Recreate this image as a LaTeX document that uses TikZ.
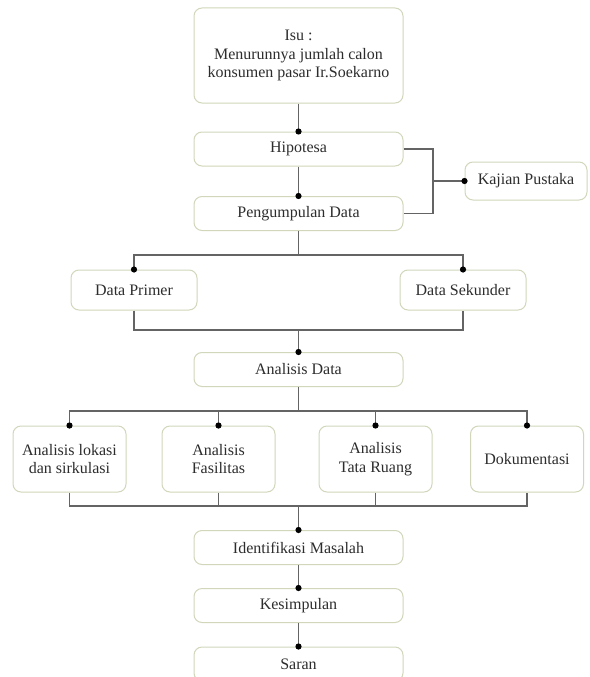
\documentclass[tikz,border=0pt]{standalone}
\usepackage{fontspec}
\setmainfont{Liberation Serif}
\definecolor{boxline}{RGB}{208,215,186}
\definecolor{linkgray}{RGB}{100,100,100}
\definecolor{textgray}{RGB}{45,45,45}

\begin{document}
\begin{tikzpicture}[x=1pt, y=-1pt,
    box/.style={draw=boxline, fill=white, rounded corners=8pt, line width=1pt, align=center,
                font=\fontsize{16}{18.5}\selectfont, text=textgray, inner sep=0pt},
    wide/.style={box, minimum width=209pt, minimum height=34pt},
    mid/.style={box, minimum width=126pt, minimum height=40pt},
    tall/.style={box, minimum width=113pt, minimum height=66pt},
    link/.style={draw=linkgray, line width=1.4pt}]
    \useasboundingbox (0, 0) rectangle (589, 677);

    \node at (298.5, 55.5) [wide, minimum height=95pt] (isu) {Isu :\\Menurunnya jumlah calon\\konsumen pasar Ir.Soekarno};
    \node at (298.5, 149) [wide] (hip) {Hipotesa};
    \node at (298.5, 213.5) [wide] (peng) {Pengumpulan Data};
    \node at (526, 181) [box, minimum width=122pt, minimum height=38pt] (kaj) {Kajian Pustaka};

    \node at (134, 290) [mid] (prim) {Data Primer};
    \node at (463, 290) [mid] (sek) {Data Sekunder};

    \node at (298.5, 369.5) [wide] (ana) {Analisis Data};

    \node at (69.5, 459) [tall] (lok) {Analisis lokasi\\dan sirkulasi};
    \node at (218.5, 459) [tall] (fas) {Analisis\\Fasilitas};
    \node at (375.5, 459) [tall] (tat) {Analisis\\Tata Ruang};
    \node at (527, 459) [tall] (dok) {Dokumentasi};

    \node at (298.5, 547.5) [wide] (idm) {Identifikasi Masalah};
    \node at (298.5, 605.5) [wide] (kes) {Kesimpulan};
    \node at (298.5, 664) [wide] (sar) {Saran};

    \coordinate (kj) at (433, 181);
    \coordinate (s1) at (298.5, 255);
    \coordinate (m1) at (298.5, 330);
    \coordinate (s2) at (298.5, 411);
    \coordinate (m2) at (298.5, 506);

    \draw[link] (isu.south) -- (hip.north);
    \draw[link] (hip.south) -- (peng.north);
    \draw[link] (hip.east) -| (kj) |- (peng.east);
    \draw[link] (kj) -- (kaj.west);

    \draw[link] (peng.south) -- (s1);
    \draw[link] (prim.north) |- (s1) -| (sek.north);
    \draw[link] (prim.south) |- (m1) -| (sek.south);
    \draw[link] (m1) -- (ana.north);

    \draw[link] (ana.south) -- (s2);
    \draw[link] (lok.north) |- (s2) -| (dok.north);
    \draw[link] (lok.south) |- (m2) -| (dok.south);
    \foreach \b in {fas, tat} {
        \draw[link] (\b.north) -- (\b.north |- s2);
        \draw[link] (\b.south) -- (\b.south |- m2);
    }
    \draw[link] (m2) -- (idm.north);
    \draw[link] (idm.south) -- (kes.north);
    \draw[link] (kes.south) -- (sar.north);

    \foreach \p in {hip.north, peng.north, kaj.west, prim.north, sek.north, ana.north,
                    lok.north, fas.north, tat.north, dok.north, idm.north, kes.north, sar.north}
        \fill (\p) circle (3.1pt);
\end{tikzpicture}
\end{document}
